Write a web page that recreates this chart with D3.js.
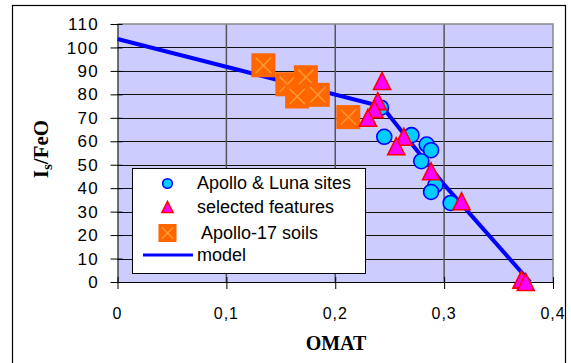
<!DOCTYPE html>
<html>
<head>
<meta charset="utf-8">
<script src="https://cdn.jsdelivr.net/npm/d3@7"></script>
<style>
  body { margin: 0; background: #fff; }
  text { font-family: Arial, "Liberation Sans", sans-serif; }
</style>
</head>
<body>
<div id="graph"></div>
<script>
// Apollo & Luna sites
var apolloOmat  = [0.242, 0.245, 0.270, 0.284, 0.288, 0.279, 0.292, 0.288, 0.306]
var apolloIsFeO = [74.3, 61.9, 62.6, 58.6, 56.2, 51.5, 41.3, 38.4, 33.7]
// selected features
var featOmat  = [0.243, 0.239, 0.236, 0.230, 0.263, 0.256, 0.288, 0.316, 0.371, 0.375]
var featIsFeO = [85.7, 77.1, 73.7, 70.0, 61.9, 57.9, 47.2, 34.4, 1.0, 0.0]
// Apollo-17 soils
var soilOmat  = [0.134, 0.156, 0.173, 0.165, 0.184, 0.212]
var soilIsFeO = [92.4, 84.3, 87.3, 79.1, 79.8, 70.3]
// model
var modelOmat  = [0, 0.243, 0.300, 0.379]
var modelIsFeO = [103.6, 74.8, 41.5, 0]

var xTicks = [0, 0.1, 0.2, 0.3, 0.4]
var yTicks = [0, 10, 20, 30, 40, 50, 60, 70, 80, 90, 100, 110]
var legendNames = ["Apollo & Luna sites", "selected features", " Apollo-17 soils", "model"]

var width = 571, height = 363
var margin = {top: 24, left: 117.5, bottom: 81, right: 18}

var svg = d3.select("#graph").append("svg")
            .attr("width", width).attr("height", height)

// outer chart frame
svg.append("rect")
   .attr("x", 12.5).attr("y", 5.5)
   .attr("width", 553).attr("height", 380)
   .attr("fill", "#fff").attr("stroke", "#000").attr("stroke-width", 1.2)

var x = d3.scaleLinear().domain([0, 0.4]).range([margin.left, width - margin.right])
var y = d3.scaleLinear().domain([0, 110]).range([height - margin.bottom, margin.top])

var pts = function(xs, ys) { return xs.map(function(v, i) { return [v, ys[i]] }) }

// plot area
svg.append("rect")
   .attr("x", x(0)).attr("y", y(110))
   .attr("width", x(0.4) - x(0)).attr("height", y(0) - y(110))
   .attr("fill", "#CCCCFF")

svg.append("g").selectAll("line")
   .data(yTicks.filter(function(d) { return d > 0 && d < 110 }))
   .enter().append("line")
   .attr("x1", x(0)).attr("x2", x(0.4))
   .attr("y1", function(d) { return Math.round(y(d)) + 0.5 })
   .attr("y2", function(d) { return Math.round(y(d)) + 0.5 })
   .attr("stroke", "#111").attr("stroke-width", 1)

svg.append("g").selectAll("line")
   .data([0.1, 0.2, 0.3])
   .enter().append("line")
   .attr("y1", y(0)).attr("y2", y(110))
   .attr("x1", function(d) { return x(d) }).attr("x2", function(d) { return x(d) })
   .attr("stroke", "#555").attr("stroke-width", 1.5)

// top / right border of plot area
svg.append("path")
   .attr("d", "M" + x(0) + "," + y(110) + "H" + x(0.4) + "V" + y(0))
   .attr("fill", "none").attr("stroke", "#888").attr("stroke-width", 1.5)

// axes
var xAxis = svg.append("g").attr("transform", "translate(0," + y(0) + ")")
xAxis.call(d3.axisBottom(x).tickValues(d3.range(0, 0.401, 0.02)).tickSize(-5).tickFormat(""))
xAxis.call(d3.axisBottom(x).tickValues(xTicks).tickSize(7).tickSizeOuter(0).tickFormat(""))
xAxis.selectAll(".tick line").attr("stroke", "#000")
xAxis.selectAll(".tick").filter(function(d) { return xTicks.indexOf(d) >= 0 })
     .select("line").attr("y1", -5)
xAxis.selectAll("path").attr("stroke", "#000")

var yAxis = svg.append("g").attr("transform", "translate(" + x(0) + ",0)")
yAxis.call(d3.axisLeft(y).tickValues(d3.range(0, 110.1, 2)).tickSize(-5).tickFormat(""))
yAxis.call(d3.axisLeft(y).tickValues(yTicks).tickSize(7).tickSizeOuter(0).tickFormat(""))
yAxis.selectAll(".tick line").attr("stroke", "#000")
yAxis.selectAll(".tick").filter(function(d) { return yTicks.indexOf(d) >= 0 })
     .select("line").attr("x1", 5)
yAxis.selectAll("path").attr("stroke", "#000")

// tick labels
svg.append("g").selectAll("text")
   .data(yTicks).enter().append("text")
   .attr("x", 99).attr("y", function(d) { return y(d) })
   .attr("dy", "0.36em").attr("text-anchor", "end")
   .attr("font-size", "17px").attr("letter-spacing", "1.3px")
   .text(function(d) { return d })

svg.append("g").selectAll("text")
   .data(xTicks).enter().append("text")
   .attr("x", function(d) { return x(d) }).attr("y", 319)
   .attr("text-anchor", "middle")
   .attr("font-size", "16px").attr("letter-spacing", "1px")
   .text(function(d) { return d === 0 ? "0" : String(d).replace(".", ",") })

// axis titles
svg.append("text")
   .attr("x", 336).attr("y", 350).attr("text-anchor", "middle")
   .style("font-family", "'Liberation Serif', 'Times New Roman', serif")
   .style("font-weight", "bold").attr("font-size", "20px")
   .text("OMAT")

var yTitle = svg.append("text")
   .attr("transform", "translate(48,149) rotate(-90)")
   .attr("text-anchor", "middle")
   .style("font-family", "'Liberation Serif', 'Times New Roman', serif")
   .style("font-weight", "bold").attr("font-size", "21px")
yTitle.append("tspan").text("I")
yTitle.append("tspan").attr("font-size", "15px").attr("dy", 4).text("s")
yTitle.append("tspan").attr("dy", -4).text("/FeO")

// model line
var line = d3.line().x(function(d) { return x(d[0]) }).y(function(d) { return y(d[1]) })
svg.append("path")
   .datum(pts(modelOmat, modelIsFeO))
   .attr("d", line)
   .attr("fill", "none").attr("stroke", "#0000FF").attr("stroke-width", 4)

// markers
var square = function(g, s) {
    g.append("rect").attr("x", -s / 2).attr("y", -s / 2).attr("width", s).attr("height", s)
     .attr("fill", "#FF6600")
    var k = s * 0.32
    g.append("path").attr("d", "M" + (-k) + "," + (-k) + "L" + k + "," + k + "M" + k + "," + (-k) + "L" + (-k) + "," + k)
     .attr("stroke", "#FF9933").attr("stroke-width", 1.5)
}
var circle = function(g, r) {
    g.append("circle").attr("r", r).attr("fill", "#00CCFF").attr("stroke", "#0000FF").attr("stroke-width", 1.6)
}
var triangle = function(g, s) {
    g.append("path").attr("d", "M0," + (-s / 2) + "L" + (s / 2) + "," + (s / 2) + "L" + (-s / 2) + "," + (s / 2) + "Z")
     .attr("fill", "#FF00FF").attr("stroke", "#FF0000").attr("stroke-width", 1.6)
}

svg.append("g").selectAll("g")
   .data(pts(soilOmat, soilIsFeO)).enter().append("g")
   .attr("transform", function(d) { return "translate(" + x(d[0]) + "," + y(d[1]) + ")" })
   .each(function() { square(d3.select(this), 24) })

svg.append("g").selectAll("g")
   .data(pts(apolloOmat, apolloIsFeO)).enter().append("g")
   .attr("transform", function(d) { return "translate(" + x(d[0]) + "," + y(d[1]) + ")" })
   .each(function() { circle(d3.select(this), 7.5) })

svg.append("g").selectAll("g")
   .data(pts(featOmat, featIsFeO)).enter().append("g")
   .attr("transform", function(d) { return "translate(" + x(d[0]) + "," + y(d[1]) + ")" })
   .each(function() { triangle(d3.select(this), 17) })

// legend
var legend = svg.append("g")
legend.append("rect")
      .attr("x", 132.5).attr("y", 168.5).attr("width", 233).attr("height", 105)
      .attr("fill", "#fff").attr("stroke", "#000").attr("stroke-width", 1)

var rowY = [183.5, 207, 233, 255]
legend.selectAll("text")
      .data(legendNames).enter().append("text")
      .attr("x", 197).attr("y", function(d, i) { return rowY[i] + 5.5 })
      .attr("font-size", "18px")
      .style("white-space", "pre")
      .text(function(d) { return d })

circle(legend.append("g").attr("transform", "translate(167.5," + rowY[0] + ")"), 4.8)
triangle(legend.append("g").attr("transform", "translate(167.5," + rowY[1] + ")"), 11)
square(legend.append("g").attr("transform", "translate(167.5," + rowY[2] + ")"), 18)
legend.append("line")
      .attr("x1", 143).attr("x2", 193).attr("y1", rowY[3]).attr("y2", rowY[3])
      .attr("stroke", "#0000FF").attr("stroke-width", 3)
</script>
</body>
</html>
